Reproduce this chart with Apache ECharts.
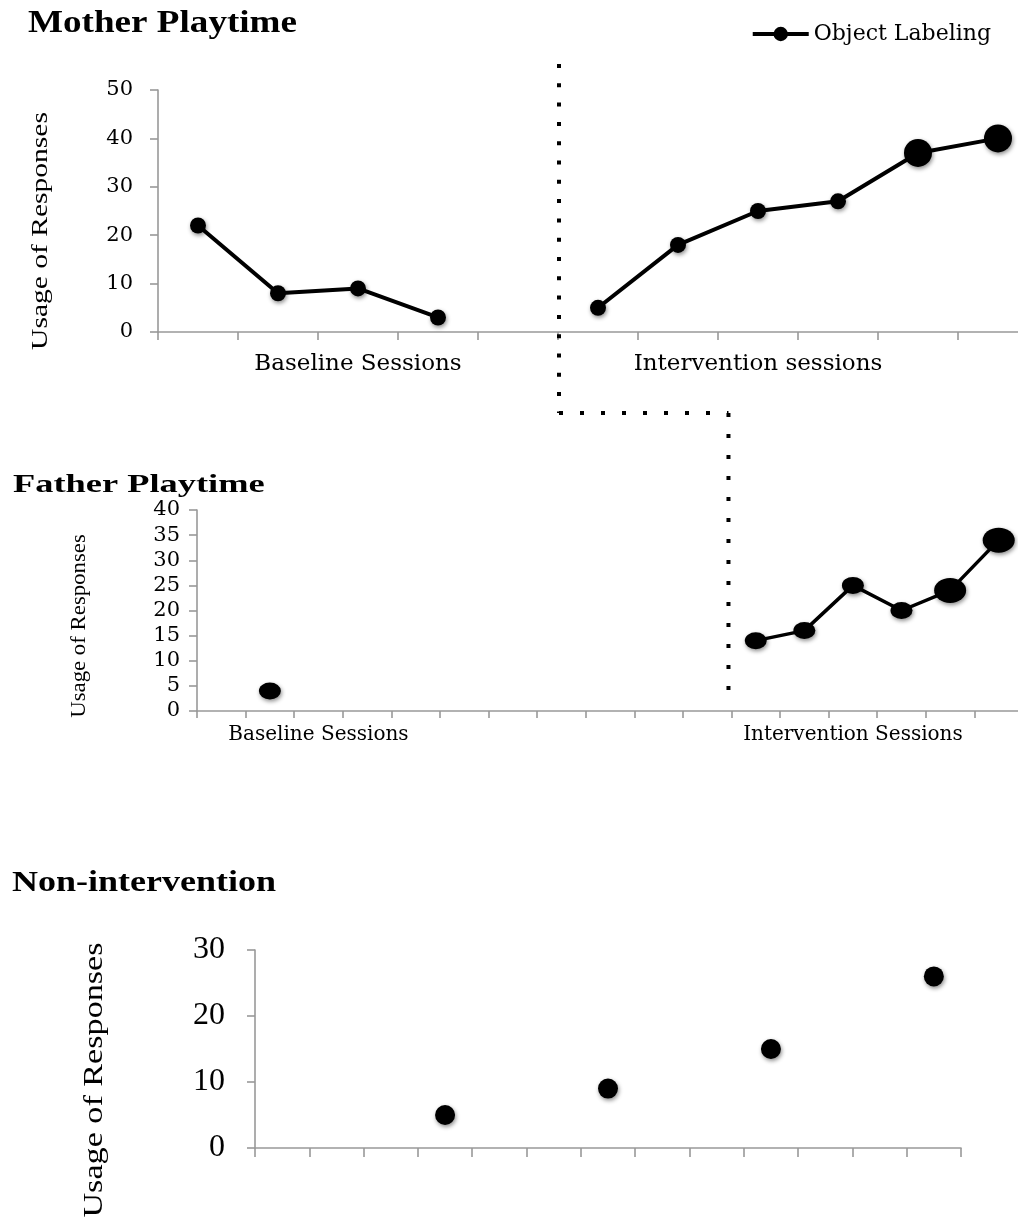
<!DOCTYPE html>
<html>
<head>
<meta charset="utf-8">
<script src="https://cdn.jsdelivr.net/npm/echarts@6/dist/echarts.min.js"></script>
<style>
  html, body { margin: 0; padding: 0; background: #fff; }
  #chart { width: 1018px; height: 1220px; }
</style>
</head>
<body>
<div id="chart"></div>
<script>
// ---------- DATA ----------
const legendName = 'Object Labeling';

const motherSessions = ['M1','M2','M3','M4','M5','M6','M7','M8','M9','M10','M11'];
const motherTickLabels = ['', '', 'Baseline Sessions', '', '', '', '', 'Intervention sessions', '', '', ''];
const motherValues = [22, 8, 9, 3, null, 5, 18, 25, 27, 37, 40];

const fatherSessions = ['F1','F2','F3','F4','F5','F6','F7','F8','F9','F10','F11','F12','F13','F14','F15','F16','F17'];
const fatherTickLabels = ['', '', 'Baseline Sessions', '', '', '', '', '', '', '', '', '', '', 'Intervention Sessions', '', '', ''];
const fatherValues = [null, 4, null, null, null, null, null, null, null, null, null, 14, 16, 25, 20, 24, 34];

const nonSessions = ['N1','N2','N3','N4','N5','N6','N7','N8','N9','N10','N11','N12','N13'];
const nonValues = [null, null, null, 5, null, null, 9, null, null, 15, null, null, 26];

const titles = ['Mother Playtime', 'Father Playtime', 'Non-intervention'];
const yAxisTitle = 'Usage of Responses';

// ---------- CHART ----------
const chart = echarts.init(document.getElementById('chart'), null, { renderer: 'canvas' });

const SERIF = '"Liberation Serif", "Times New Roman", Times, serif';
const WIDE = '"DejaVu Serif", serif';
const axisGray = '#999999';
const shadow = { shadowColor: 'rgba(0,0,0,0.45)', shadowBlur: 4, shadowOffsetY: 2, shadowOffsetX: 1 };
const ellipse = 'path://M0,10 A10,10 0 1,0 20,10 A10,10 0 1,0 0,10 Z';

function xAxisCfg(gridIndex, cats, labels, fontSize, margin, tickLen) {
  return {
    type: 'category', gridIndex: gridIndex, data: cats, boundaryGap: true,
    axisLine: { show: true, lineStyle: { color: axisGray, width: 1.6 } },
    axisTick: { show: true, interval: 0, length: tickLen, lineStyle: { color: axisGray, width: 1.6 } },
    axisLabel: {
      show: !!labels, interval: 0, margin: margin, color: '#000',
      fontFamily: WIDE, fontSize: fontSize,
      formatter: function (v, i) { return labels ? labels[i] : ''; }
    },
    splitLine: { show: false }
  };
}
function yAxisCfg(gridIndex, max, interval, fontFamily, fontSize, margin) {
  return {
    type: 'value', gridIndex: gridIndex, min: 0, max: max, interval: interval,
    axisLine: { show: true, lineStyle: { color: axisGray, width: 1.6 } },
    axisTick: { show: true, length: 8, lineStyle: { color: axisGray, width: 1.6 } },
    axisLabel: { color: '#000', fontFamily: fontFamily, fontSize: fontSize, margin: margin },
    splitLine: { show: false }
  };
}

const option = {
  animation: false,
  backgroundColor: '#ffffff',
  legend: {
    data: [legendName], right: 22, top: 18,
    itemWidth: 56, itemHeight: 18,
    lineStyle: { width: 4, color: '#000' },
    textStyle: { fontFamily: WIDE, fontSize: 22, color: '#000' }
  },
  grid: [
    { left: 158, top: 90, height: 242, right: -20, outerBoundsMode: 'none', containLabel: false },
    { left: 197, top: 510, height: 201, right: -5, outerBoundsMode: 'none', containLabel: false },
    { left: 255, top: 950, height: 198, right: 57, outerBoundsMode: 'none', containLabel: false }
  ],
  xAxis: [
    xAxisCfg(0, motherSessions, motherTickLabels, 23, 21, 8),
    xAxisCfg(1, fatherSessions, fatherTickLabels, 20, 14, 7),
    xAxisCfg(2, nonSessions, null, 20, 10, 9)
  ],
  yAxis: [
    yAxisCfg(0, 50, 10, WIDE, 21, 25),
    yAxisCfg(1, 40, 5, WIDE, 21, 17),
    yAxisCfg(2, 30, 10, SERIF, 32, 30)
  ],
  series: [
    {
      name: legendName, type: 'line', xAxisIndex: 0, yAxisIndex: 0,
      data: motherValues, connectNulls: false,
      symbol: 'circle',
      symbolSize: function (v, p) { return p.dataIndex >= 9 ? 28 : 16; },
      lineStyle: { color: '#000', width: 4 },
      itemStyle: Object.assign({ color: '#000', opacity: 1 }, shadow)
    },
    {
      name: 'Father ' + legendName, type: 'line', xAxisIndex: 1, yAxisIndex: 1,
      data: fatherValues, connectNulls: false,
      symbol: ellipse,
      symbolSize: function (v, p) { return p.dataIndex >= 15 ? [32, 25] : [22, 17]; },
      lineStyle: { color: '#000', width: 3.5 },
      itemStyle: Object.assign({ color: '#000', opacity: 1 }, shadow)
    },
    {
      name: 'Non-intervention ' + legendName, type: 'scatter', xAxisIndex: 2, yAxisIndex: 2,
      data: nonValues, symbol: 'circle', symbolSize: 20,
      itemStyle: Object.assign({ color: '#000', opacity: 1 }, shadow)
    }
  ]
};
chart.setOption(option);

// ---------- ANNOTATIONS (titles, axis titles, phase-change lines) ----------
function boundary(axisIndex, leftIdx) {
  const a = chart.convertToPixel({ xAxisIndex: axisIndex }, leftIdx);
  const b = chart.convertToPixel({ xAxisIndex: axisIndex }, leftIdx + 1);
  return (a + b) / 2;
}
const xPhase1 = boundary(0, 4) + 1;
const xPhase2 = boundary(1, 10) - 3;
const yCorner = 413;

function titleText(text, x, y, size, sx) {
  return { type: 'text', x: x, y: y, scaleX: sx, z: 10,
    style: { text: text, font: 'bold ' + size + 'px ' + SERIF,
             fill: '#000', align: 'left', verticalAlign: 'middle' } };
}
function yTitle(x, y, size, sx) {
  return { type: 'text', x: x, y: y, rotation: Math.PI / 2, scaleX: sx, z: 10,
    style: { text: yAxisTitle, font: size + 'px ' + SERIF,
             fill: '#000', align: 'center', verticalAlign: 'middle' } };
}
function dots(x1, y1, x2, y2, gap) {
  return { type: 'line', z: 5, shape: { x1: x1, y1: y1, x2: x2, y2: y2 },
    style: { stroke: '#000', lineWidth: 4, lineDash: [4, gap], lineCap: 'butt' } };
}

chart.setOption({
  graphic: [
    titleText(titles[0], 28, 24, 32, 1.16),
    titleText(titles[1], 13, 485, 26, 1.4),
    titleText(titles[2], 12, 883, 30, 1.2),
    yTitle(41, 231, 24, 1.23),
    yTitle(80, 626, 20, 1.14),
    yTitle(95, 1080, 28, 1.22),
    dots(xPhase1, 64, xPhase1, yCorner, 15.3),
    dots(xPhase1, yCorner, xPhase2, yCorner, 17),
    dots(xPhase2, yCorner, xPhase2, 697, 17)
  ]
});
</script>
</body>
</html>
